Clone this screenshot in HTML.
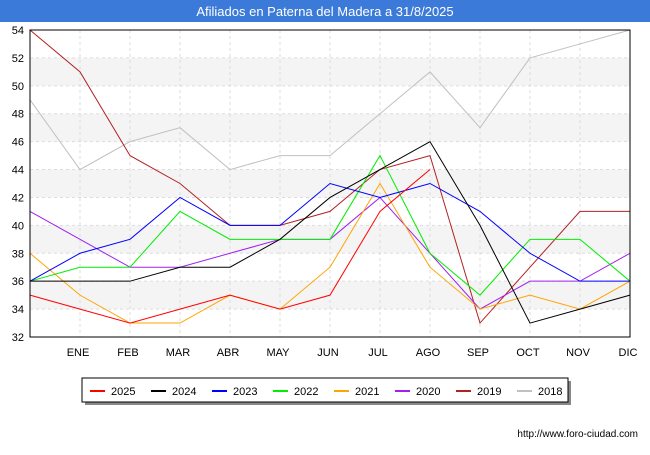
<!DOCTYPE html>
<html><head><meta charset="utf-8"><style>
body{margin:0;background:#fff;font-family:"Liberation Sans",sans-serif;}
svg text{font-family:"Liberation Sans",sans-serif;}
</style></head><body>
<svg id="c" width="650" height="450" xmlns="http://www.w3.org/2000/svg">
<rect x="0" y="0" width="650" height="450" fill="#fff"/>
<rect x="0" y="0" width="650" height="22" fill="#3b7ad9"/>
<text x="325" y="16" text-anchor="middle" fill="#fff" font-size="13">Afiliados en Paterna del Madera a 31/8/2025</text>
<g id="grid"></g><g id="lines"></g><g id="axes"></g>
<text x="638" y="437" text-anchor="end" font-size="10" fill="#000">http://www.foro-ciudad.com</text>
<g id="legend"></g>
</svg>
<script>
const months=["","ENE","FEB","MAR","ABR","MAY","JUN","JUL","AGO","SEP","OCT","NOV","DIC"];
const yTicks=[32,34,36,38,40,42,44,46,48,50,52,54];
const seriesNames=["2025","2024","2023","2022","2021","2020","2019","2018"];
const seriesColors=["#ff0000","#000000","#0000ff","#00ee00","#ffa500","#a020f0","#b22222","#c0c0c0"];
const s2025=[35,34,33,34,35,34,35,41,44];
const s2024=[36,36,36,37,37,39,42,44,46,40,33,34,35];
const s2023=[36,38,39,42,40,40,43,42,43,41,38,36,36];
const s2022=[36,37,37,41,39,39,39,45,38,35,39,39,36];
const s2021=[38,35,33,33,35,34,37,43,37,34,35,34,36];
const s2020=[41,39,37,37,38,39,39,42,38,34,36,36,38];
const s2019=[54,51,45,43,40,40,41,44,45,33,37,41,41];
const s2018=[49,44,46,47,44,45,45,48,51,47,52,53,54];
const allSeries=[s2025,s2024,s2023,s2022,s2021,s2020,s2019,s2018];
const X0=30,X1=630,Y0=30,Y1=337,ymin=32,ymax=54;
const xs=i=>X0+i*(X1-X0)/(months.length-1);
const ys=v=>Y1-(v-ymin)*(Y1-Y0)/(ymax-ymin);
const NS="http://www.w3.org/2000/svg";
function mk(t,a,p){const e=document.createElementNS(NS,t);for(const k in a)e.setAttribute(k,a[k]);p.appendChild(e);return e;}
const grid=document.getElementById('grid'),lines=document.getElementById('lines'),axes=document.getElementById('axes'),leg=document.getElementById('legend');
const pa=mk('rect',{x:X0,y:Y0,width:X1-X0,height:Y1-Y0,fill:'#fff'},grid);


for(let i=0;i<yTicks.length-1;i++){
 if(i%2===1){const b=mk('rect',{x:X0,y:ys(yTicks[i+1]),width:X1-X0,height:ys(yTicks[i])-ys(yTicks[i+1]),fill:'#f4f4f4'},grid);
 
 }
}
yTicks.forEach(v=>{
 const l=mk('line',{x1:X0,x2:X1,y1:ys(v),y2:ys(v),stroke:'#ddd','stroke-dasharray':'3,3'},grid);
 
 
 const t=mk('text',{x:X0-6,y:ys(v)+4,'text-anchor':'end','font-size':'11',fill:'#000'},axes);t.textContent=v;
 
 
});
months.forEach((m,i)=>{
 if(i>0){const l=mk('line',{x1:xs(i),x2:xs(i),y1:Y0,y2:Y1,stroke:'#ddd','stroke-dasharray':'3,3'},grid);
 
 }
 if(!m)return;
 const t=mk('text',{x:xs(i)-2,y:356,'text-anchor':'middle','font-size':'11',fill:'#000'},axes);t.textContent=m;
 
 
});
const fr=mk('rect',{x:X0,y:Y0,width:X1-X0,height:Y1-Y0,fill:'none',stroke:'#000'},axes);


for(let s=allSeries.length-1;s>=0;s--){
 const pts=allSeries[s].map((v,i)=>xs(i)+','+ys(v)).join(' ');
 const p=mk('polyline',{points:pts,fill:'none',stroke:seriesColors[s],'stroke-width':'1'},lines);
 
 
}
mk('rect',{x:85,y:381,width:486,height:24,fill:'#888'},leg);
const lb=mk('rect',{x:82,y:378,width:486,height:24,fill:'#fff',stroke:'#000'},leg);


seriesNames.forEach((n,i)=>{
 const x=90+i*61;
 const g=mk('g',{},leg);
 
 
 mk('line',{x1:x,x2:x+15,y1:391,y2:391,stroke:seriesColors[i],'stroke-width':'2'},g);
 const t=mk('text',{x:x+21,y:395,'font-size':'11',fill:'#000'},g);t.textContent=n;
});
</script>
</body></html>
